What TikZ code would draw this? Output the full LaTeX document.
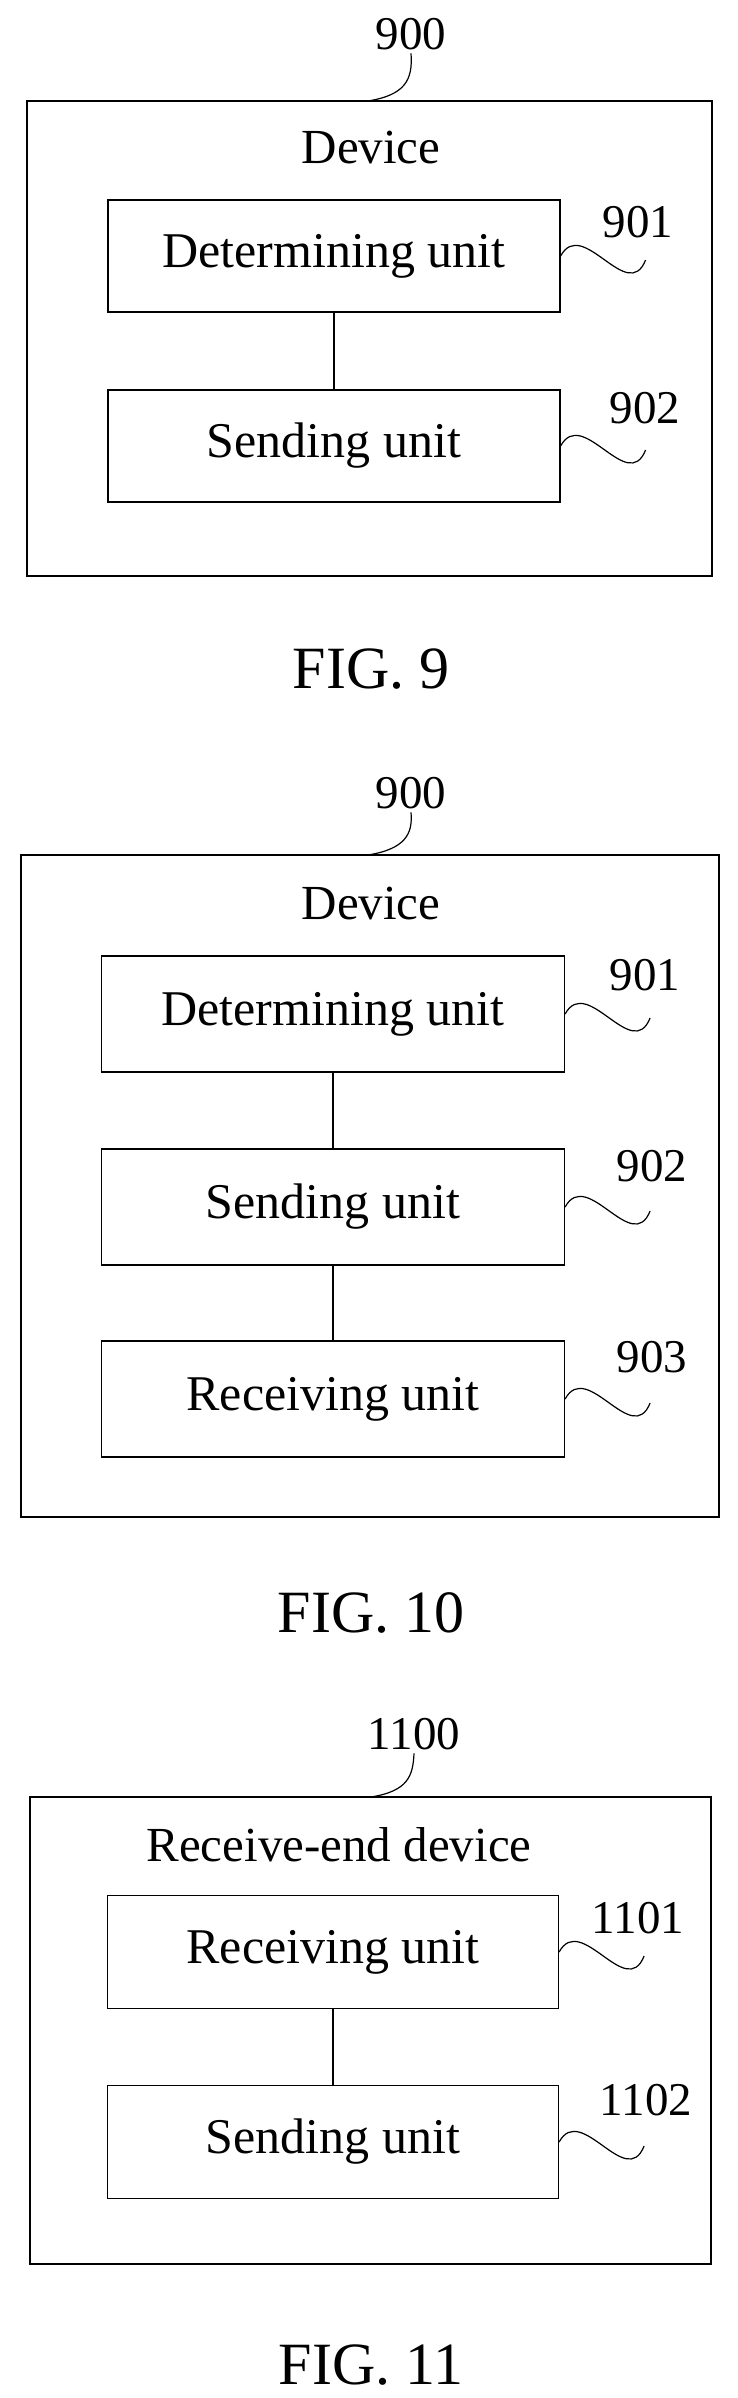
\documentclass[tikz,border=0pt]{standalone}
\usepackage{fontspec}
\setmainfont{Liberation Serif}
\usetikzlibrary{positioning}
\tikzset{
  unit/.style={rectangle,draw,line width=1.2pt,minimum width=452pt,minimum height=114pt,inner sep=0pt,font=\fontsize{50}{58}\selectfont},
  frame/.style={draw,line width=1.2pt},
  title/.style={font=\fontsize{49}{57}\selectfont},
  refnum/.style={font=\fontsize{47}{55}\selectfont},
  figlabel/.style={font=\fontsize{60}{68}\selectfont},
  link/.style={line width=1.2pt},
}
\newcommand{\wavy}[2]{%
  \coordinate (#2) at ([xshift=85pt,yshift=-4pt]#1.east);
  \draw[link] (#1.east) .. controls +(22,-40) and +(-18,45) .. (#2);}
\begin{document}
\begin{tikzpicture}[x=1pt,y=-1pt]
  \useasboundingbox (0,0) rectangle (737,2398);

  % FIG. 9
  \draw[frame] (27,101) rectangle (712,576);
  \node[refnum] (n900a) at (411,34) {900};
  \coordinate (c900a) at (368,101);
  \draw[link] (c900a) .. controls (405,95) and (413,80) .. (n900a.south);
  \node[title] (dev9) at (371,148) {Device};
  \node[unit,minimum height=112pt] (det9) at (334,256) {Determining unit};
  \node[unit,minimum height=112pt] (send9) at (334,446) {Sending unit};
  \draw[link] (det9) -- (send9);
  \wavy{det9}{w901a}
  \wavy{send9}{w902a}
  \node[refnum] at (638,222) {901};
  \node[refnum] at (645,408) {902};
  \node[figlabel] (fig9) at (371,669) {FIG. 9};

  % FIG. 10
  \draw[frame] (21,855) rectangle (719,1517);
  \node[refnum] (n900b) at (411,793) {900};
  \coordinate (c900b) at (368,855);
  \draw[link] (c900b) .. controls (405,849) and (413,834) .. (n900b.south);
  \node[title] (dev10) at (371,904) {Device};
  \node[unit,minimum width=463pt,minimum height=116pt] (det10) at (333,1014) {Determining unit};
  \node[unit,minimum width=463pt,minimum height=116pt] (send10) at (333,1207) {Sending unit};
  \node[unit,minimum width=463pt,minimum height=116pt] (recv10) at (333,1399) {Receiving unit};
  \draw[link] (det10) -- (send10);
  \draw[link] (send10) -- (recv10);
  \wavy{det10}{w901b}
  \wavy{send10}{w902b}
  \wavy{recv10}{w903b}
  \node[refnum] at (645,975) {901};
  \node[refnum] at (652,1166) {902};
  \node[refnum] at (652,1357) {903};
  \node[figlabel] (fig10) at (371,1613) {FIG. 10};

  % FIG. 11
  \draw[frame] (30,1797) rectangle (711,2264);
  \node[refnum] (n1100) at (414,1734) {1100};
  \coordinate (c1100) at (371,1797);
  \draw[link] (c1100) .. controls (408,1791) and (413,1776) .. (n1100.south);
  \node[title] (dev11) at (339,1845) {Receive-end device};
  \node[unit,minimum width=451pt,minimum height=113pt] (recv11) at (333,1952) {Receiving unit};
  \node[unit,minimum width=451pt,minimum height=113pt] (send11) at (333,2142) {Sending unit};
  \draw[link] (recv11) -- (send11);
  \wavy{recv11}{w1101}
  \wavy{send11}{w1102}
  \node[refnum] at (638,1918) {1101};
  \node[refnum] at (646,2100) {1102};
  \node[figlabel] (fig11) at (371,2365) {FIG. 11};
\end{tikzpicture}
\end{document}
